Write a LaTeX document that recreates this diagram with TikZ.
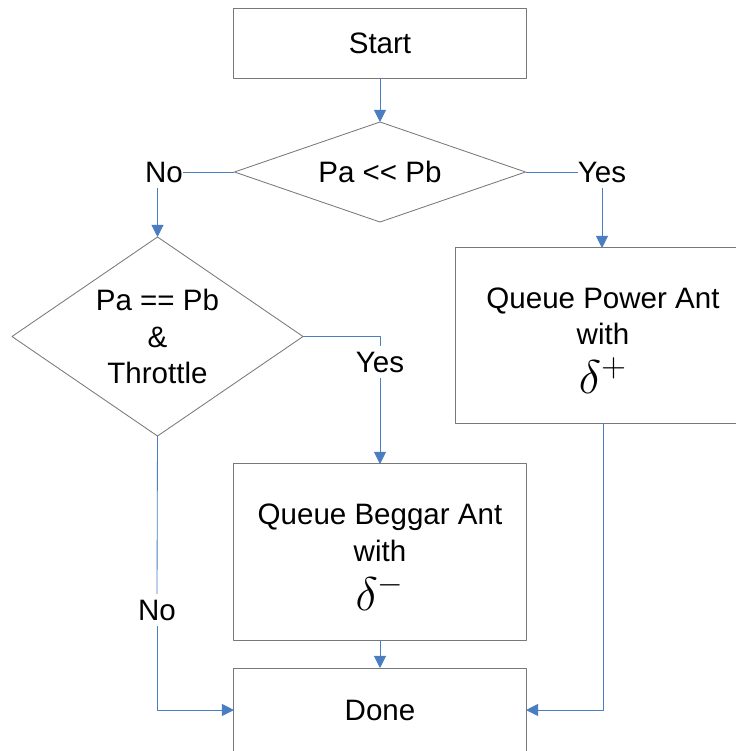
\documentclass[tikz,border=0pt]{standalone}
\usepackage{graphicx}
\usepackage{fontspec}
\setmainfont{Liberation Sans}
\usetikzlibrary{shapes.geometric,arrows.meta}
\definecolor{edgeblue}{RGB}{74,126,193}
\definecolor{boxgray}{RGB}{120,120,120}
\newcommand{\bigdelta}[1]{\scalebox{1.62}{$\delta^{#1}$}}
\newcommand{\topstrut}{\rule{0pt}{22pt}}
\begin{document}
\begin{tikzpicture}[x=0.025cm,y=-0.025cm,line join=round,
  >={Triangle[length=0.3cm,width=0.3cm]},
  font=\fontsize{21}{26}\selectfont,
  box/.style={draw=boxgray,line width=0.7pt,minimum width=7.3cm,inner sep=0pt,outer sep=0pt,align=center},
  test/.style={shape=diamond,draw=boxgray,line width=0.6pt,inner sep=0pt,outer sep=0pt,align=center},
  link/.style={draw=edgeblue,line width=0.6pt},
  answer/.style={inner xsep=0pt,inner ysep=4pt}]
\useasboundingbox (0,0) rectangle (736,751);
\begin{scope}
\clip (0,0) rectangle (736,751);
% boxes and tests
\node[box,minimum height=1.75cm] (start) at (380,43) {Start};
\node[test,aspect=2.9,minimum width=7.275cm,minimum height=2.5cm] (d1) at (380,172) {Pa <{}< Pb};
\node[test,aspect=1.46,minimum width=7.275cm,minimum height=4.975cm] (d2) at (157.5,336.5) {Pa == Pb\\\&\\Throttle};
\node[box,minimum width=7.35cm,minimum height=4.375cm] (power) at (603,335.5)
  {\topstrut Queue Power Ant\\with\\[9pt]\bigdelta{+}};
\node[box,minimum height=4.4cm] (beggar) at (380,552)
  {\topstrut Queue Beggar Ant\\with\\[9pt]\bigdelta{-}};
\node[box,minimum height=2.1cm] (done) at (380,710) {Done};
% answers
\node[answer] (no1) at (164,172) {No};
\node[answer] (yes1) at (602,172) {Yes};
\node[answer] (yes2) at (380,362) {Yes};
\node[answer] (no2) at (157,610) {No};
% connectors
\draw[link,->] (start.south) -- (d1.north);
\draw[link] (d1.west) -- (no1.east);
\draw[link,->] (no1.south -| d2.north) -- (d2.north);
\draw[link] (d1.east) -- (yes1.west);
\draw[link,->] (yes1.south) -- (yes1.south |- power.north);
\draw[link] (d2.east) -| (yes2.north);
\draw[link,->] (yes2.south) -- (beggar.north);
\draw[link] (d2.south) -- (no2.north);
\draw[link,->] (no2.south) |- (done.west);
\draw[link,->] (power.south) |- (done.east);
\draw[link,->] (beggar.south) -- (done.north);
\end{scope}
\end{tikzpicture}
\end{document}
